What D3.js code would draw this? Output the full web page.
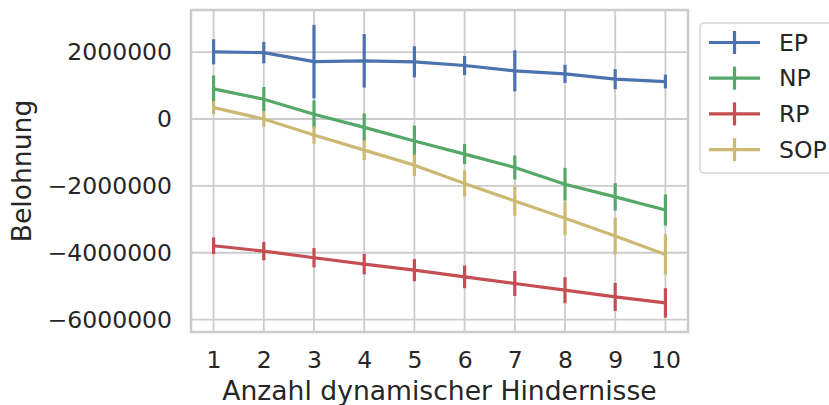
<!DOCTYPE html>
<html>
<head>
<meta charset="utf-8">
<script src="https://cdn.jsdelivr.net/npm/d3@7"></script>
<style>
    body { margin: 0; background: #fff; }
    text { font-family: "DejaVu Sans", sans-serif; fill: #262626; }
    .grid line { stroke: #cccccc; stroke-width: 1.8; }
    .frame { fill: none; stroke: #cccccc; stroke-width: 2.5; }
    .series path { fill: none; stroke-width: 3.2; stroke-linejoin: round; }
    .series line { stroke-width: 3.2; }
</style>
</head>
<body>
<svg id="chart"></svg>
<script>
// Anzahl dynamischer Hindernisse
const xValues = [1, 2, 3, 4, 5, 6, 7, 8, 9, 10]

const seriesNames = ['EP', 'NP', 'RP', 'SOP']
const seriesColors = ['#4C72B0', '#55A868', '#C44E52', '#CCB974']

const epMean = [2010000, 1985000, 1716000, 1740000, 1710000, 1600000, 1440000, 1350000, 1190000, 1120000]
const epErr = [375000, 320000, 1100000, 800000, 465000, 285000, 615000, 270000, 300000, 205000]

const npMean = [900000, 590000, 140000, -250000, -660000, -1050000, -1450000, -1950000, -2330000, -2720000]
const npErr = [400000, 365000, 420000, 415000, 465000, 300000, 360000, 490000, 410000, 465000]

const rpMean = [-3790000, -3950000, -4150000, -4340000, -4520000, -4720000, -4920000, -5120000, -5320000, -5500000]
const rpErr = [250000, 275000, 290000, 305000, 330000, 340000, 375000, 390000, 420000, 440000]

const sopMean = [340000, 0, -480000, -930000, -1380000, -1930000, -2450000, -2970000, -3500000, -4050000]
const sopErr = [200000, 230000, 260000, 300000, 320000, 390000, 440000, 500000, 550000, 600000]

const yTicks = [-6000000, -4000000, -2000000, 0, 2000000]

const margin = { top: 10, left: 191, right: 141, bottom: 73 }
const dims = {
    width: 829 - margin.left - margin.right,
    height: 405 - margin.top - margin.bottom,
}

var svg = d3.select('#chart')
            .attr('width', 829)
            .attr('height', 405)

var g = svg.append('g')
           .attr('transform', `translate(${margin.left}, ${margin.top})`)

var x = d3.scaleLinear().domain([0.55, 10.45]).range([0, dims.width])
var y = d3.scaleLinear().domain([-6370000, 3260000]).range([dims.height, 0])

// grid
var grid = g.append('g').attr('class', 'grid')
grid.selectAll('.gx').data(xValues).enter().append('line')
    .attr('x1', d => x(d)).attr('x2', d => x(d))
    .attr('y1', 0).attr('y2', dims.height)
grid.selectAll('.gy').data(yTicks).enter().append('line')
    .attr('x1', 0).attr('x2', dims.width)
    .attr('y1', d => y(d)).attr('y2', d => y(d))

// axes (labels only, no tick marks)
var fmt = d => d < 0 ? '\u2212' + Math.abs(d) : String(d)
var yAxis = g.append('g')
             .call(d3.axisLeft(y).tickValues(yTicks).tickSize(0).tickPadding(19).tickFormat(fmt))
yAxis.select('.domain').remove()
yAxis.selectAll('text').style('font-size', '23.5px').attr('fill', '#262626')

var xAxis = g.append('g')
             .attr('transform', `translate(0, ${dims.height})`)
             .call(d3.axisBottom(x).tickValues(xValues).tickSize(0).tickPadding(19).tickFormat(d3.format('d')))
xAxis.select('.domain').remove()
xAxis.selectAll('text').style('font-size', '23.5px').attr('fill', '#262626')

g.append('rect').attr('class', 'frame')
 .attr('width', dims.width).attr('height', dims.height)

// series
var allSeries = [
    { name: seriesNames[0], color: seriesColors[0], mean: epMean, err: epErr },
    { name: seriesNames[1], color: seriesColors[1], mean: npMean, err: npErr },
    { name: seriesNames[2], color: seriesColors[2], mean: rpMean, err: rpErr },
    { name: seriesNames[3], color: seriesColors[3], mean: sopMean, err: sopErr },
]

var line = d3.line()
             .x((d, i) => x(xValues[i]))
             .y(d => y(d))

allSeries.forEach(function (s) {
    var sg = g.append('g').attr('class', 'series')
    sg.append('path')
      .attr('d', line(s.mean))
      .attr('stroke', s.color)
    sg.selectAll('line').data(s.mean).enter().append('line')
      .attr('stroke', s.color)
      .attr('x1', (d, i) => x(xValues[i])).attr('x2', (d, i) => x(xValues[i]))
      .attr('y1', (d, i) => y(d + s.err[i]))
      .attr('y2', (d, i) => y(d - s.err[i]))
})

// axis labels
svg.append('text')
   .attr('x', margin.left + dims.width / 2)
   .attr('y', 400)
   .attr('text-anchor', 'middle')
   .style('font-size', '26.6px')
   .text('Anzahl dynamischer Hindernisse')

svg.append('text')
   .attr('transform', `translate(30.5, ${margin.top + dims.height / 2}) rotate(-90)`)
   .attr('text-anchor', 'middle')
   .style('font-size', '26.6px')
   .text('Belohnung')

// legend
var legend = svg.append('g')
                .attr('transform', 'translate(700, 23)')
legend.append('rect')
      .attr('width', 140).attr('height', 150)
      .attr('rx', 4).attr('ry', 4)
      .attr('fill', '#fff').attr('fill-opacity', 0.8)
      .attr('stroke', '#d6d6d6').attr('stroke-width', 1.5)

var item = legend.selectAll('.item').data(allSeries).enter().append('g')
                 .attr('transform', (d, i) => `translate(0, ${19.5 + i * 35.7})`)
item.append('line')
    .attr('x1', 9).attr('x2', 60).attr('y1', 0).attr('y2', 0)
    .attr('stroke', d => d.color).attr('stroke-width', 3.2)
item.append('line')
    .attr('x1', 34.5).attr('x2', 34.5).attr('y1', -11.5).attr('y2', 11.5)
    .attr('stroke', d => d.color).attr('stroke-width', 3.2)
item.append('text')
    .attr('x', 79).attr('dy', '0.35em')
    .style('font-size', '23.5px')
    .text(d => d.name)
</script>
</body>
</html>
